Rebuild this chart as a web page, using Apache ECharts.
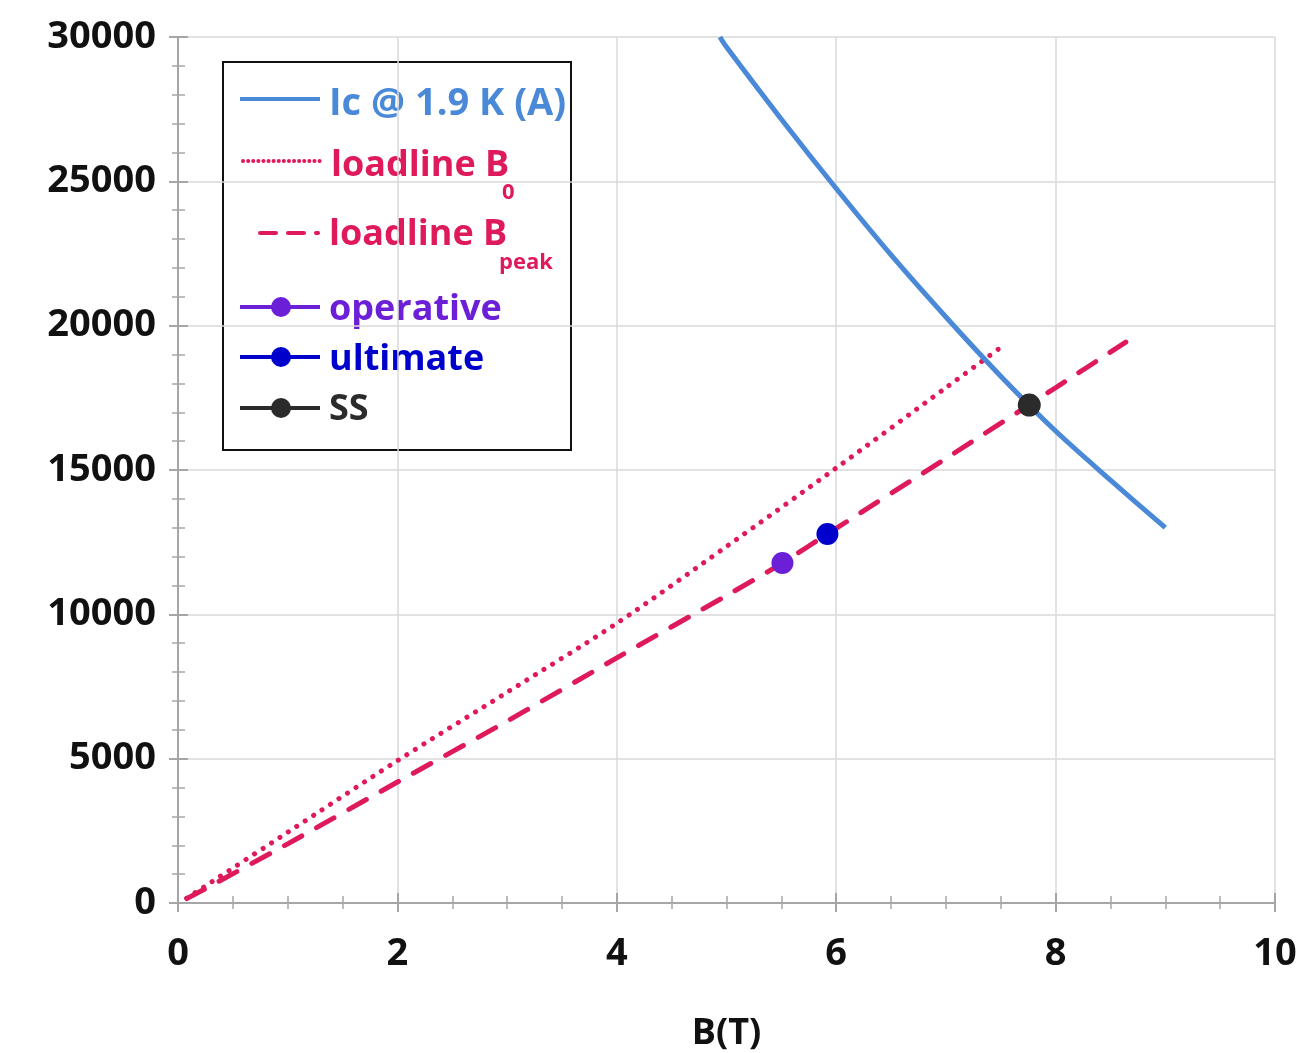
<!DOCTYPE html>
<html>
<head>
<meta charset="utf-8">
<script src="https://cdn.jsdelivr.net/npm/echarts@6/dist/echarts.min.js"></script>
<style>
  html, body { margin: 0; padding: 0; background: #fff; }
  #chart { width: 1307px; height: 1053px; }
</style>
</head>
<body>
<div id="chart"></div>
<script>
// Ic @ 1.9 K critical current curve, [B(T), I(A)]
var icData = [[4.94, 30000], [5, 29650], [5.5, 27150], [6, 24750], [6.5, 22450], [7, 20300],
              [7.5, 18250], [8, 16350], [8.5, 14650], [9, 13000]];
// loadline B0 (dotted)
var loadB0 = [[0.08, 170], [1, 2450], [2, 4930], [3, 7300], [4, 9690], [5, 12350],
              [6, 15070], [7, 17850], [7.53, 19330]];
// loadline Bpeak (dashed)
var loadBpeak = [[0.08, 150], [1, 2050], [2, 4190], [3, 6300], [4, 8490], [5, 10650],
                 [5.5, 11760], [6, 12980], [7, 15400], [8, 17850], [8.64, 19430]];
// working points
var operative = [[5.51, 11780]];
var ultimate = [[5.92, 12780]];
var ss = [[7.76, 17250]];

var cBlue = '#4a89d8', cRed = '#df1a5a', cPurple = '#6b1fd6', cUlt = '#0000cc', cSS = '#2b2b2b';
var labelFont = { fontFamily: 'Open Sans', fontWeight: 'bold', fontSize: 38, color: '#111' };
var axisGray = '#a6a6a6';

var myChart = echarts.init(document.getElementById('chart'));

function mirrorAxis(pos, min, max, interval, split) {
    return {
        type: 'value', position: pos, min: min, max: max, interval: interval,
        axisLine: { show: true, lineStyle: { color: axisGray, width: 2 } },
        axisTick: { show: true, inside: true, length: 9, lineStyle: { color: axisGray, width: 2 } },
        minorTick: { show: true, splitNumber: split, length: 6, lineStyle: { color: axisGray, width: 1.5 } },
        axisLabel: { show: false },
        splitLine: { show: false }
    };
}

var legendItems = [];
function legendText(x, y, txt, color, size) {
    legendItems.push({
        type: 'text', left: x, top: y,
        style: { text: txt, fill: color, font: 'bold ' + size + 'px "Open Sans"' }
    });
}
function legendLine(x1, x2, y, color, dash) {
    legendItems.push({
        type: 'line', shape: { x1: x1, y1: y, x2: x2, y2: y },
        style: { stroke: color, lineWidth: 4, lineDash: dash || null, lineCap: dash ? 'round' : 'butt' }
    });
}
function legendDot(x, y, color) {
    legendItems.push({ type: 'circle', shape: { cx: x, cy: y, r: 10 }, style: { fill: color } });
}
legendItems.push({
    type: 'rect', shape: { x: 223, y: 62, width: 348, height: 388 },
    style: { fill: '#fff', stroke: '#111', lineWidth: 2 }
});
legendLine(240, 320, 99, cBlue);
legendText(329, 85, 'Ic @ 1.9 K (A)', cBlue, 38);
legendLine(243, 320, 161, cRed, [0.1, 5]);
legendText(331, 148, 'loadline B', cRed, 36);
legendText(502, 182, '0', cRed, 22);
legendLine(260, 318, 233, cRed, [16, 12]);
legendText(329, 217, 'loadline B', cRed, 36);
legendText(499, 252, 'peak', cRed, 22);
legendLine(240, 320, 307, cPurple);
legendDot(281, 307, cPurple);
legendText(329, 292, 'operative', cPurple, 36);
legendLine(240, 320, 357, cUlt);
legendDot(281, 357, cUlt);
legendText(329, 342, 'ultimate', cUlt, 36);
legendLine(240, 320, 408, cSS);
legendDot(281, 408, cSS);
legendText(329, 392, 'SS', cSS, 36);

var option = {
    backgroundColor: '#fff',
    animation: false,
    grid: { left: 178, right: 32, top: 37, bottom: 150, outerBoundsMode: 'none', containLabel: false },
    xAxis: [
        {
            type: 'value', min: 0, max: 10, interval: 2,
            name: 'B(T)', nameLocation: 'middle', nameGap: 113,
            nameTextStyle: { fontFamily: 'Open Sans', fontWeight: 'bold', fontSize: 36, color: '#111' },
            axisLine: { show: true, lineStyle: { color: axisGray, width: 2 } },
            axisTick: { show: true, inside: true, length: 10, lineStyle: { color: axisGray, width: 2 } },
            minorTick: { show: true, splitNumber: 4, length: 7, lineStyle: { color: axisGray, width: 1.5 } },
            axisLabel: Object.assign({ margin: 32 }, labelFont),
            splitLine: { show: true, lineStyle: { color: '#d9d9d9', width: 1.5 } }
        },
        mirrorAxis('top', 0, 10, 2, 4)
    ],
    yAxis: [
        {
            type: 'value', min: 0, max: 30000, interval: 5000,
            axisLine: { show: true, lineStyle: { color: axisGray, width: 2 } },
            axisTick: { show: true, inside: true, length: 10, lineStyle: { color: axisGray, width: 2 } },
            minorTick: { show: true, splitNumber: 5, length: 7, lineStyle: { color: axisGray, width: 1.5 } },
            axisLabel: Object.assign({ margin: 22, formatter: function (v) { return String(v); } }, labelFont),
            splitLine: { show: true, lineStyle: { color: '#d9d9d9', width: 1.5 } }
        },
        mirrorAxis('right', 0, 30000, 5000, 5)
    ],
    series: [
        {
            name: 'Ic @ 1.9 K (A)', type: 'line', data: icData, smooth: 0.3, symbol: 'none',
            lineStyle: { color: cBlue, width: 5 }, z: 3
        },
        {
            name: 'loadline B0', type: 'line', data: loadB0, smooth: 0.3, symbol: 'none',
            lineStyle: { color: cRed, width: 5, type: [0.1, 10], cap: 'round' }, z: 2
        },
        {
            name: 'loadline Bpeak', type: 'line', data: loadBpeak, smooth: 0.3, symbol: 'none',
            lineStyle: { color: cRed, width: 5, type: [20, 17], cap: 'round' }, z: 2
        },
        { name: 'operative', type: 'scatter', data: operative, symbolSize: 22, itemStyle: { color: cPurple, opacity: 1 }, z: 5 },
        { name: 'ultimate', type: 'scatter', data: ultimate, symbolSize: 22, itemStyle: { color: cUlt, opacity: 1 }, z: 5 },
        { name: 'SS', type: 'scatter', data: ss, symbolSize: 23, itemStyle: { color: cSS, opacity: 1 }, z: 5 }
    ],
    graphic: legendItems
};
myChart.setOption(option);
</script>
</body>
</html>
